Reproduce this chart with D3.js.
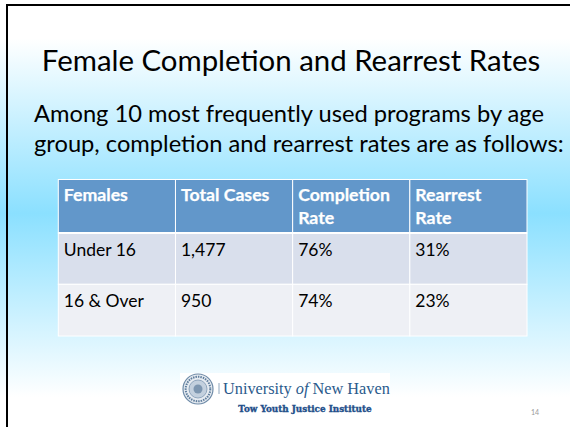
<!DOCTYPE html>
<html>
<head>
<meta charset="utf-8">
<script src="https://cdn.jsdelivr.net/npm/d3@7"></script>
<style>
  html, body { margin: 0; padding: 0; background: #fff; }
  svg { display: block; }
  text { font-family: Lato, "Open Sans", sans-serif; }
</style>
</head>
<body>
<div id="wrapper"></div>
<script>
const width = 570,
    height = 427;

const TITLE = 'Female Completion and Rearrest Rates';
const INTRO = ['Among 10 most frequently used programs by age',
    'group, completion and rearrest rates are as follows:'];
const HEADERS = [['Females'], ['Total Cases'], ['Completion', 'Rate'], ['Rearrest', 'Rate']];
const AGE_GROUPS = ['Under 16', '16 & Over'];
const TOTAL_CASES = ['1,477', '950'];
const COMPLETION = ['76%', '74%'];
const REARREST = ['31%', '23%'];
const PAGE_NUMBER = '14';

const rows = AGE_GROUPS.map((g, i) => [g, TOTAL_CASES[i], COMPLETION[i], REARREST[i]]);

const colX = d3.scaleLinear().domain([0, 4]).range([58.3, 527]);
const rowTop = [179.5, 233, 284.3, 336];

const svg = d3.select('#wrapper').append('svg')
    .attr('width', width)
    .attr('height', height);

// slide background
const grad = svg.append('defs').append('linearGradient')
    .attr('id', 'bg')
    .attr('x1', 0).attr('x2', 0).attr('y1', 0).attr('y2', 1);
grad.selectAll('stop')
    .data([[0.09, '#ffffff'], [0.5, '#8be0ff'], [0.93, '#ffffff']])
    .enter()
    .append('stop')
    .attr('offset', d => d[0])
    .attr('stop-color', d => d[1]);

svg.append('rect')
    .attr('width', width)
    .attr('height', height)
    .attr('fill', 'url(#bg)');

// only left and top edge of the slide frame show
svg.append('path')
    .attr('d', 'M7,427V5H570')
    .attr('fill', 'none')
    .attr('stroke', '#000')
    .attr('stroke-width', 2);

svg.append('text')
    .attr('x', 291)
    .attr('y', 70.7)
    .attr('text-anchor', 'middle')
    .attr('font-size', 29.4)
    .attr('fill', '#000')
    .text(TITLE);

svg.selectAll('.intro')
    .data(INTRO)
    .enter()
    .append('text')
    .attr('class', 'intro')
    .attr('x', 34)
    .attr('y', (d, i) => 122 + i * 30)
    .attr('font-size', 23.7)
    .attr('fill', '#000')
    .text(d => d);

// table
const table = svg.append('g');
const cellFill = ['#6297ca', '#d9dfec', '#eef0f5'];
d3.range(3).forEach(r => {
    table.selectAll('.cell-' + r)
        .data(d3.range(4))
        .enter()
        .append('rect')
        .attr('class', 'cell-' + r)
        .attr('x', d => colX(d))
        .attr('y', rowTop[r])
        .attr('width', d => colX(d + 1) - colX(d))
        .attr('height', rowTop[r + 1] - rowTop[r])
        .attr('fill', cellFill[r])
        .attr('stroke', '#fff')
        .attr('stroke-width', 1);
});

// thicker rule under the header
table.append('line')
    .attr('x1', colX(0)).attr('x2', colX(4))
    .attr('y1', rowTop[1]).attr('y2', rowTop[1])
    .attr('stroke', '#fff')
    .attr('stroke-width', 2);

HEADERS.forEach((lines, c) => {
    table.selectAll('.head-' + c)
        .data(lines)
        .enter()
        .append('text')
        .attr('class', 'head-' + c)
        .attr('x', colX(c) + 5.5)
        .attr('y', (d, i) => 201 + i * 22.5)
        .attr('font-size', 17.7)
        .attr('font-weight', 700)
        .attr('fill', '#fff')
        .attr('stroke', '#fff')
        .attr('stroke-width', 0.25)
        .text(d => d);
});

rows.forEach((row, r) => {
    table.selectAll('.body-' + r)
        .data(row)
        .enter()
        .append('text')
        .attr('class', 'body-' + r)
        .attr('x', (d, c) => colX(c) + 5.5)
        .attr('y', rowTop[r + 1] + 22.7)
        .attr('font-size', 17.5)
        .attr('fill', '#000')
        .text(d => d);
});

// logo
const logo = svg.append('g');
logo.append('rect')
    .attr('x', 180).attr('y', 373)
    .attr('width', 210).attr('height', 33)
    .attr('fill', '#fff');
logo.selectAll('circle')
    .data([
        [15, '#e6ebf1', '#6f8ba8', 1.2, null],
        [12.3, 'none', '#5f7d9c', 2, '1.5 1'],
        [9, '#c3d0de', '#7f98b2', 0.8, null],
        [4.5, '#7d96b0', 'none', 0, null]
    ])
    .enter()
    .append('circle')
    .attr('cx', 198).attr('cy', 389)
    .attr('r', d => d[0])
    .attr('fill', d => d[1])
    .attr('stroke', d => d[2])
    .attr('stroke-width', d => d[3])
    .attr('stroke-dasharray', d => d[4]);
logo.append('line')
    .attr('x1', 219).attr('x2', 219)
    .attr('y1', 383).attr('y2', 394)
    .attr('stroke', '#8fa6bd');
const uni = logo.append('text')
    .attr('x', 223)
    .attr('y', 394)
    .attr('font-size', 16.3)
    .attr('fill', '#2a5a8c')
    .style('font-family', '"Liberation Serif", serif');
uni.append('tspan').text('University ');
uni.append('tspan').attr('font-style', 'italic').text('of');
uni.append('tspan').text(' New Haven');

svg.append('text')
    .attr('x', 305)
    .attr('y', 412.3)
    .attr('text-anchor', 'middle')
    .attr('font-size', 8.8)
    .attr('font-weight', 700)
    .attr('fill', '#1f4f8a')
    .attr('stroke', '#1f4f8a')
    .attr('stroke-width', 0.35)
    .style('font-family', '"DejaVu Serif", serif')
    .text('Tow Youth Justice Institute');

svg.append('text')
    .attr('x', 535)
    .attr('y', 414.7)
    .attr('text-anchor', 'middle')
    .attr('font-size', 7)
    .attr('fill', '#999')
    .text(PAGE_NUMBER);
</script>
</body>
</html>
